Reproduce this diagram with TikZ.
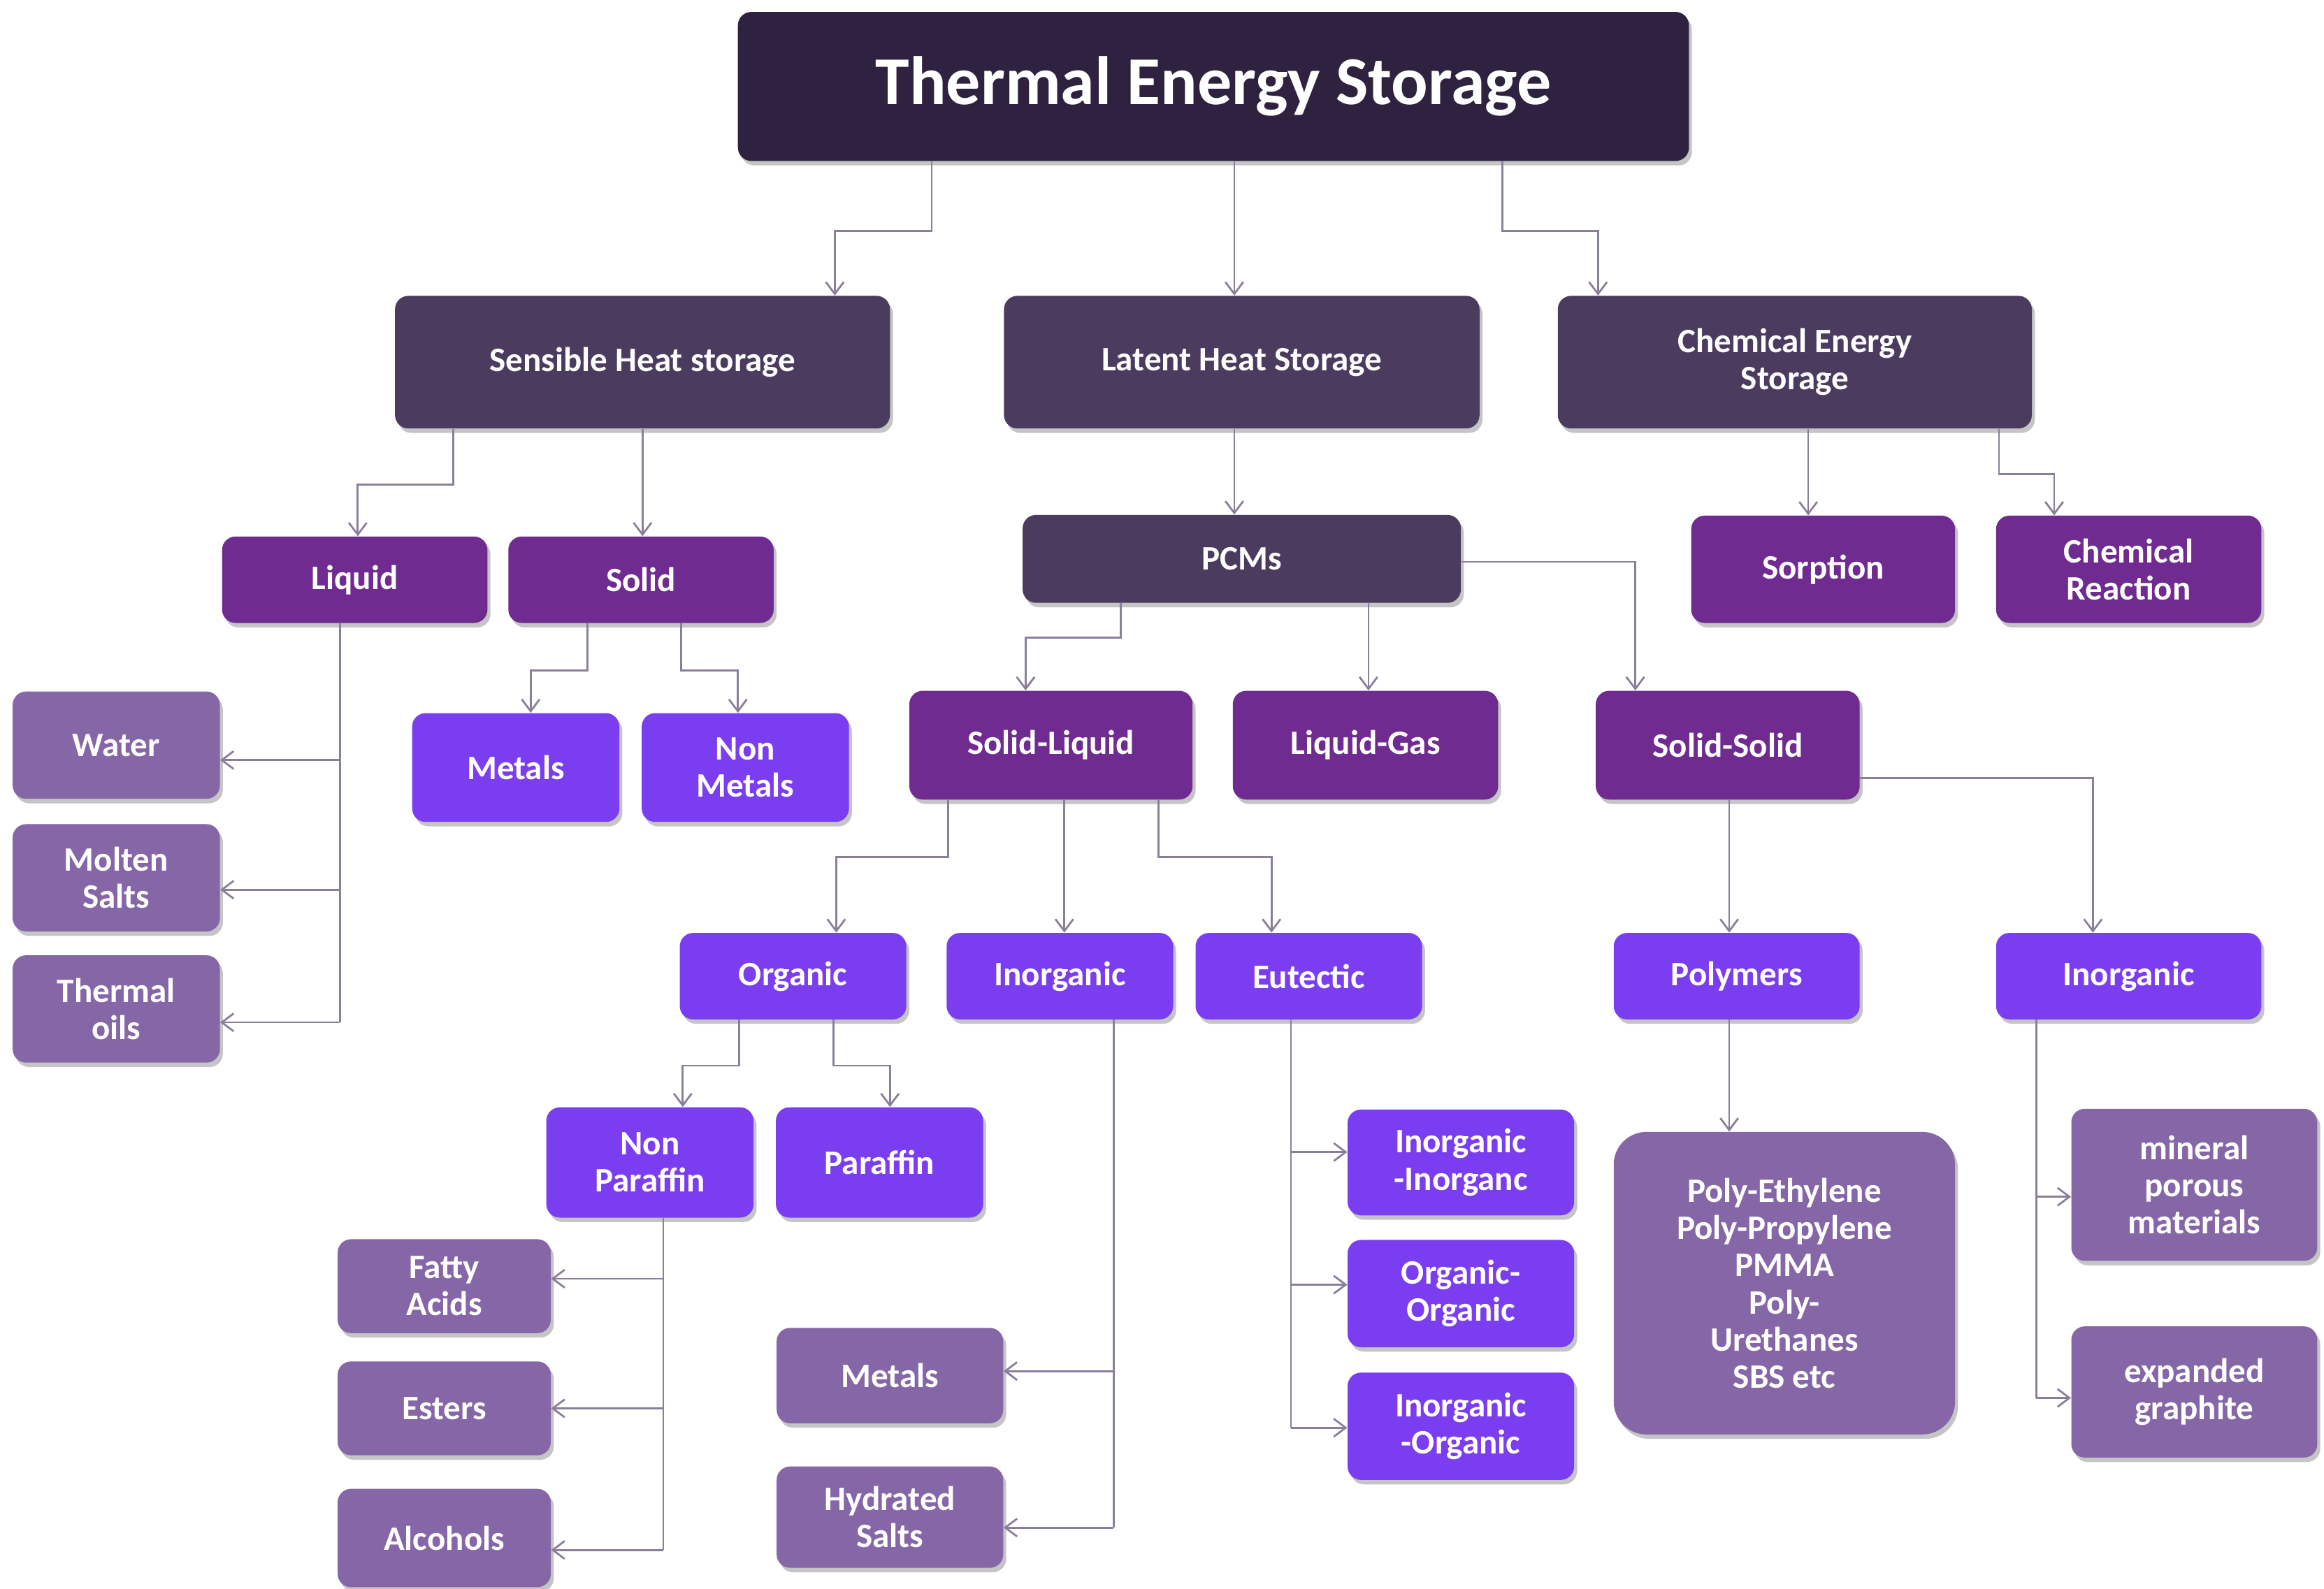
\documentclass[tikz,border=0pt]{standalone}
\usepackage{fontspec}
\setmainfont{Carlito}
\usetikzlibrary{shadows,calc,arrows.meta}
\definecolor{cTitle}{HTML}{2F2240}
\definecolor{cDark}{HTML}{4B3B5E}
\definecolor{cPur}{HTML}{6F2B8F}
\definecolor{cVio}{HTML}{7A3DF0}
\definecolor{cLav}{HTML}{8566A6}
\definecolor{cLine}{HTML}{8A7F9A}
\begin{document}
\begin{tikzpicture}[x=1pt,y=-1pt,
 box/.style={rounded corners=9pt,text=white,align=center,inner sep=2pt,
   font=\bfseries\fontsize{23}{25}\selectfont,
   drop shadow={shadow xshift=2pt,shadow yshift=-3pt,fill=black!45,opacity=.5}},
 dk/.style={box,fill=cDark},
 pu/.style={box,fill=cPur},
 vi/.style={box,fill=cVio},
 lv/.style={box,fill=cLav},
 sz/.style 2 args={minimum width=#1pt,minimum height=#2pt},
 ar/.style={draw=cLine,line width=1.3pt,-{Straight Barb[length=8pt,width=12pt]}},
 ln/.style={draw=cLine,line width=1.3pt}]
\useasboundingbox[fill=white] (0,0) rectangle (1559,1066);
\node[box,fill=cTitle,sz={638}{100},font=\bfseries\fontsize{46}{50}\selectfont] (T) at (814,58) {Thermal Energy Storage};
\node[dk,sz={332}{89}] (S) at (431,243) {Sensible Heat storage};
\node[dk,sz={319}{89}] (L) at (833,243) {Latent Heat Storage};
\node[dk,sz={318}{89}] (C) at (1204,243) {Chemical Energy\\Storage};
\node[pu,sz={178}{58}] (Liq) at (238,389) {Liquid};
\node[pu,sz={178}{58}] (Sol) at (430,389) {Solid};
\node[dk,sz={294}{59}] (P) at (833,375) {PCMs};
\node[pu,sz={177}{72}] (Sor) at (1223,382) {Sorption};
\node[pu,sz={178}{72}] (CR) at (1428,382) {Chemical\\Reaction};
\node[lv,sz={139}{72}] (W) at (78,500) {Water};
\node[lv,sz={139}{72}] (MS) at (78,589) {Molten\\Salts};
\node[lv,sz={139}{72}] (TO) at (78,677) {Thermal\\oils};
\node[vi,sz={139}{73}] (Me) at (346,515) {Metals};
\node[vi,sz={139}{73}] (NM) at (500,515) {Non\\Metals};
\node[pu,sz={190}{73}] (SL) at (705,500) {Solid-Liquid};
\node[pu,sz={178}{73}] (LG) at (916,500) {Liquid-Gas};
\node[pu,sz={177}{73}] (SS) at (1159,500) {Solid-Solid};
\node[vi,sz={152}{58}] (Or) at (532,655) {Organic};
\node[vi,sz={152}{58}] (In) at (711,655) {Inorganic};
\node[vi,sz={152}{58}] (Eu) at (878,655) {Eutectic};
\node[vi,sz={165}{58}] (Po) at (1165,655) {Polymers};
\node[vi,sz={178}{58}] (In2) at (1428,655) {Inorganic};
\node[vi,sz={139}{74}] (NP) at (436,780) {Non\\Paraffin};
\node[vi,sz={139}{74}] (Pa) at (590,780) {Paraffin};
\node[lv,sz={143}{63}] (FA) at (298,863) {Fatty\\Acids};
\node[lv,sz={143}{63}] (Es) at (298,945) {Esters};
\node[lv,sz={143}{66}] (Al) at (298,1032) {Alcohols};
\node[lv,sz={152}{64}] (M2) at (597,923) {Metals};
\node[lv,sz={152}{68}] (HS) at (597,1018) {Hydrated\\Salts};
\node[vi,sz={152}{71}] (II) at (980,780) {Inorganic\\-Inorganc};
\node[vi,sz={152}{72}] (OO) at (980,868) {Organic-\\Organic};
\node[vi,sz={152}{72}] (IO) at (980,957) {Inorganic\\-Organic};
\node[lv,sz={229}{203},rounded corners=22pt] (PB) at (1197,861) {Poly-Ethylene\\Poly-Propylene\\PMMA\\Poly-\\Urethanes\\SBS etc};
\node[lv,sz={165}{102}] (MP) at (1472,795) {mineral\\porous\\materials};
\node[lv,sz={165}{88}] (EG) at (1472,934) {expanded\\graphite};
% connectors
\draw[ar] (T.south -| 625,0) -- (625,155) -- (560,155) -- (S.north -| 560,0);
\draw[ar] (T.south -| 828,0) -- (L.north -| 828,0);
\draw[ar] (T.south -| 1008,0) -- (1008,155) -- (1072,155) -- (C.north -| 1072,0);
\draw[ar] (S.south -| 304,0) -- (304,325) -- (240,325) -- (Liq.north -| 240,0);
\draw[ar] (S.south -| 431,0) -- (Sol.north -| 431,0);
\draw[ln] (Liq.south -| 228,0) -- (228,686);
\draw[ar] (228,510) -- (W.east |- 0,510);
\draw[ar] (228,597) -- (MS.east |- 0,597);
\draw[ar] (228,686) -- (TO.east |- 0,686);
\draw[ar] (Sol.south -| 394,0) -- (394,450) -- (356,450) -- (Me.north -| 356,0);
\draw[ar] (Sol.south -| 457,0) -- (457,450) -- (495,450) -- (NM.north -| 495,0);
\draw[ar] (L.south -| 828,0) -- (P.north -| 828,0);
\draw[ar] (C.south -| 1213,0) -- (Sor.north -| 1213,0);
\draw[ar] (C.south -| 1341,0) -- (1341,318) -- (1378,318) -- (CR.north -| 1378,0);
\draw[ar] (P.south -| 752,0) -- (752,428) -- (688,428) -- (SL.north -| 688,0);
\draw[ar] (P.south -| 918,0) -- (LG.north -| 918,0);
\draw[ar] (P.east |- 0,377) -- (1097,377) -- (SS.north -| 1097,0);
\draw[ar] (SL.south -| 636,0) -- (636,575) -- (561,575) -- (Or.north -| 561,0);
\draw[ar] (SL.south -| 714,0) -- (In.north -| 714,0);
\draw[ar] (SL.south -| 777,0) -- (777,575) -- (853,575) -- (Eu.north -| 853,0);
\draw[ar] (SS.south -| 1160,0) -- (Po.north -| 1160,0);
\draw[ar] (SS.east |- 0,522) -- (1404,522) -- (In2.north -| 1404,0);
\draw[ar] (Or.south -| 496,0) -- (496,715) -- (458,715) -- (NP.north -| 458,0);
\draw[ar] (Or.south -| 559,0) -- (559,715) -- (597,715) -- (Pa.north -| 597,0);
\draw[ln] (NP.south -| 445,0) -- (445,1040);
\draw[ar] (445,858) -- (FA.east |- 0,858);
\draw[ar] (445,945) -- (Es.east |- 0,945);
\draw[ar] (445,1040) -- (Al.east |- 0,1040);
\draw[ln] (In.south -| 747,0) -- (747,1025);
\draw[ar] (747,920) -- (M2.east |- 0,920);
\draw[ar] (747,1025) -- (HS.east |- 0,1025);
\draw[ln] (Eu.south -| 866,0) -- (866,958);
\draw[ar] (866,773) -- (II.west |- 0,773);
\draw[ar] (866,862) -- (OO.west |- 0,862);
\draw[ar] (866,958) -- (IO.west |- 0,958);
\draw[ar] (Po.south -| 1160,0) -- (PB.north -| 1160,0);
\draw[ln] (In2.south -| 1366,0) -- (1366,938);
\draw[ar] (1366,803) -- (MP.west |- 0,803);
\draw[ar] (1366,938) -- (EG.west |- 0,938);
\end{tikzpicture}
\end{document}
